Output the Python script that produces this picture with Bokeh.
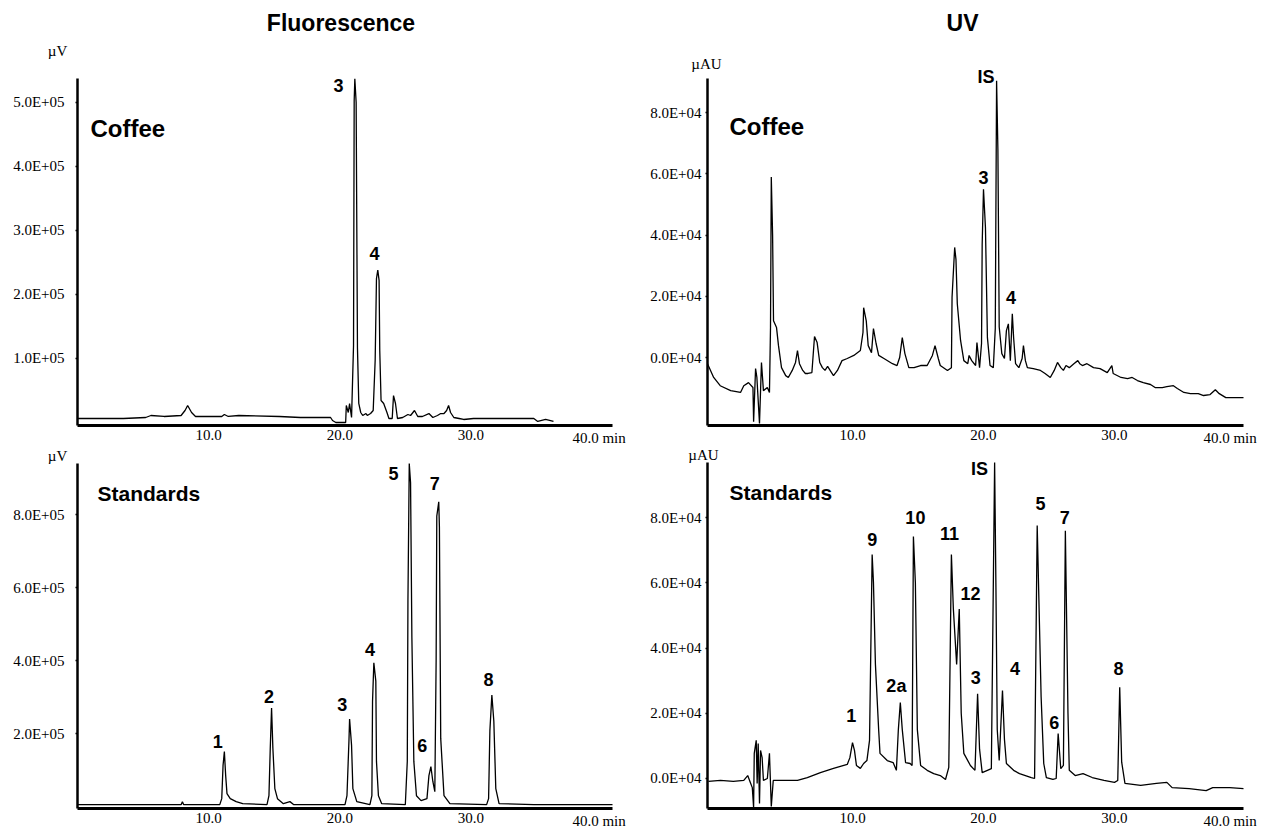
from bokeh.plotting import figure
from bokeh.models import FixedTicker, Label, Range1d
from bokeh.layouts import column, row
from bokeh.embed import file_html
from bokeh.resources import INLINE

# ---------------- data (time in min, signal) ----------------
# Fluorescence - Coffee (uV)
fl_coffee_t = [0.0, 3.5, 5.2, 5.6, 6.6, 7.9, 8.2, 8.4, 8.7, 9.0, 11.0, 11.2, 11.5, 12.3, 15.4, 17.0,
               19.3, 19.45, 19.7, 20.45, 20.5, 20.65, 20.75, 20.9, 21.05, 21.1, 21.15, 21.25, 21.35,
               21.45, 21.6, 21.75, 22.0, 22.1, 22.35, 22.55, 22.7, 22.8, 22.9, 23.0, 23.05, 23.15,
               23.35, 23.6, 23.75, 24.0, 24.1, 24.25, 24.4, 24.8, 25.2, 25.4, 25.7, 25.95, 26.3,
               26.8, 27.1, 27.45, 27.7, 27.95, 28.15, 28.3, 28.45, 28.7, 29.1, 29.45, 30.2, 32.3,
               34.8, 35.1, 35.7, 36.3]
fl_coffee_v = [6250, 6250, 7800, 10900, 9400, 10900, 18750, 26600, 15600, 9400, 9400, 12500, 9400,
               10900, 9400, 7800, 7800, 3100, 0, 0, 26600, 15600, 29700, 7800, 120000, 503000, 537000,
               500000, 117000, 29700, 15600, 10900, 14000, 10900, 14000, 18750, 97000, 225000, 238000,
               222000, 113000, 34400, 29700, 15600, 6250, 6250, 42000, 29700, 6250, 7800, 12500, 10900,
               18750, 9400, 9400, 14000, 7800, 10900, 14000, 14000, 18750, 26600, 15600, 7800, 6250,
               4700, 6250, 6250, 6250, 1600, 4700, 1600]

# Fluorescence - Standards (uV)
fl_std_t = [0.0, 7.9, 8.0, 8.1, 10.85, 11.0, 11.1, 11.2, 11.3, 11.4, 11.65, 12.1, 12.6, 14.45, 14.6,
            14.7, 14.8, 14.9, 15.05, 15.25, 15.7, 16.2, 16.5, 20.4, 20.55, 20.7, 20.75, 20.9, 21.0,
            21.3, 22.3, 22.45, 22.5, 22.6, 22.75, 22.8, 22.95, 23.2, 25.0, 25.15, 25.2, 25.3, 25.4,
            25.5, 25.65, 25.85, 26.2, 26.65, 26.8, 26.95, 27.1, 27.25, 27.35, 27.4, 27.55, 27.6, 27.7,
            27.95, 28.4, 31.2, 31.35, 31.45, 31.6, 31.75, 31.9, 32.15, 34.8, 40.8]
fl_std_v = [5500, 5500, 13800, 5500, 5500, 22000, 113000, 151000, 85000, 35800, 22000, 13800, 8300,
            5500, 30000, 160000, 270000, 160000, 49600, 22000, 8300, 13800, 5500, 5500, 30000, 179000,
            240000, 168000, 49600, 13800, 5500, 30000, 289000, 394000, 344000, 124000, 30000, 8300,
            5500, 124000, 565000, 940000, 887000, 464000, 124000, 30000, 16500, 22000, 85000, 110000,
            69000, 41000, 400000, 796000, 835000, 766000, 187000, 30000, 8300, 5500, 22000, 209000,
            306000, 234000, 49600, 8300, 5500, 5500]

# UV - Coffee (uAU)
uv_coffee_t = [-1.07, -0.6, -0.1, 0.7, 1.45, 1.7, 2.06, 2.4, 2.45, 2.6, 2.7, 2.9, 3.05, 3.2, 3.5, 3.66,
               3.74, 3.8, 3.9, 3.97, 4.2, 4.35, 4.58, 4.9, 5.1, 5.4, 5.65, 5.8, 5.95, 6.2, 6.4, 6.6,
               6.9, 7.1, 7.3, 7.5, 7.7, 7.9, 8.1, 8.4, 8.55, 8.85, 9.2, 9.6, 10.1, 10.6, 10.8, 10.85,
               11.05, 11.2, 11.45, 11.6, 11.8, 12.0, 12.4, 13.05, 13.4, 13.6, 13.8, 14.0, 14.3, 14.7,
               15.2, 15.7, 16.1, 16.3, 16.55, 16.7, 17.25, 17.55, 17.6, 17.8, 17.9, 18.0, 18.25, 18.5,
               18.8, 18.9, 19.1, 19.4, 19.5, 19.7, 19.85, 19.9, 20.0, 20.15, 20.3, 20.5, 20.75, 20.9,
               21.0, 21.1, 21.2, 21.4, 21.6, 21.75, 21.9, 22.05, 22.2, 22.3, 22.45, 22.7, 22.95, 23.05,
               23.2, 23.35, 23.8, 24.35, 24.7, 25.1, 25.4, 25.65, 25.9, 26.1, 26.3, 26.55, 26.9, 27.2,
               27.35, 27.55, 27.9, 28.4, 28.9, 29.45, 29.8, 29.9, 30.5, 31.0, 31.35, 31.75, 32.2, 32.75,
               33.1, 33.65, 34.0, 34.5, 34.8, 35.3, 35.8, 36.4, 36.8, 37.3, 37.7, 38.0, 38.5, 39.1, 39.85]
uv_coffee_v = [-2000, -6500, -9200, -10800, -11400, -9200, -8200, -9800, -21000, -3600, -6500, -21500,
               -1600, -10800, -9800, -11400, 9800, 59000, 40000, 12000, 9800, 3900, -3300, -5900, -6500,
               -4200, -1600, 2300, -2000, -4200, -5200, -5200, -4900, 6900, 4900, -1600, -3300, -4200,
               -2900, -4900, -5900, -4200, -1000, -300, 700, 2300, 8200, 16300, 12000, 3900, 1600, 9500,
               4600, 700, -300, -2000, -2600, 0, 6500, 1300, -3300, -3300, -2600, -2600, 700, 3900, -300,
               -2600, -4200, -3300, 19700, 36000, 32000, 17600, 5600, -1000, -2000, 700, -1000, -2600,
               4900, -3300, 4600, 37000, 55000, 42500, 6500, -2600, -3300, 9500, 90500, 68000, 10000,
               1300, -300, 8800, 11000, -1000, 14300, 6500, -2000, -3300, -300, 3900, -1000, -3300, -3600,
               -4200, -5200, -6500, -4200, -1600, -3300, -4200, -2600, -3300, -2000, -1000, -2000, -2600,
               -2000, -3300, -3600, -4900, -2600, -5200, -6500, -6900, -6500, -7500, -8200, -8800, -9800,
               -9800, -9500, -9200, -10100, -11400, -11800, -11800, -12400, -12100, -10500, -11800,
               -13100, -13100, -13100]

# UV - Standards (uAU)
uv_std_t = [-1.0, -0.08, 0.9, 1.7, 2.0, 2.2, 2.35, 2.45, 2.5, 2.65, 2.72, 2.8, 2.9, 2.98, 3.1, 3.2,
            3.5, 3.66, 3.8, 3.95, 4.7, 5.8, 6.55, 7.55, 8.55, 9.6, 9.8, 10.0, 10.15, 10.3, 10.6, 10.85,
            11.1, 11.3, 11.5, 11.6, 11.75, 12.0, 12.1, 12.65, 13.1, 13.35, 13.5, 13.65, 13.8, 14.05,
            14.4, 14.55, 14.65, 14.8, 14.95, 15.2, 15.7, 16.2, 16.7, 17.1, 17.35, 17.55, 17.7, 17.95,
            18.15, 18.3, 18.5, 19.0, 19.35, 19.55, 19.7, 19.9, 20.3, 20.6, 20.85, 20.95, 21.05, 21.2,
            21.45, 21.6, 21.75, 22.3, 22.75, 23.65, 23.9, 24.1, 24.4, 24.6, 24.8, 25.3, 25.55, 25.7,
            25.9, 26.1, 26.25, 26.45, 26.55, 27.0, 27.6, 28.3, 29.2, 30.0, 30.25, 30.4, 30.55, 30.8,
            32.0, 33.2, 34.0, 34.4, 35.7, 37.0, 37.5, 38.8, 39.85]
uv_std_v = [-900, -600, -900, -600, 900, -1200, -2800, -8900, 7700, 11700, -1500, 10700, -7700, 8600,
            6400, -600, 0, 7700, -8600, -600, -600, -600, 300, 1800, 3100, 4300, 6400, 11000, 8600,
            4000, 3100, 4600, 5500, 11700, 68700, 60000, 35000, 14700, 7700, 5500, 4900, 2500, 15000,
            23300, 15000, 4900, 4600, 4000, 74200, 60000, 15000, 4000, 2500, 1500, 900, -300, 3400,
            68700, 52000, 35000, 52000, 20000, 7700, 4000, 2500, 26000, 9000, 1800, 2500, 3000, 96900,
            58500, 15000, 5500, 27000, 12000, 4600, 2500, 1500, 300, 0, 77600, 25000, 4600, 300, -300,
            0, 13800, 3000, 4000, 76000, 20000, 2500, 900, 1500, 300, -600, -1200, -600, 28000, 5000,
            -1500, -2100, -1500, -1200, -2800, -3100, -3700, -2800, -2800, -3100]

# peak labels: text, time, signal
fl_coffee_peaks = ["3", "4"]
fl_coffee_peak_t = [19.9, 22.65]
fl_coffee_peak_v = [527000, 264000]

fl_std_peaks = ["1", "2", "3", "4", "5", "6", "7", "8"]
fl_std_peak_t = [10.7, 14.6, 20.2, 22.3, 24.1, 26.3, 27.25, 31.35]
fl_std_peak_v = [179000, 303000, 281000, 430000, 912000, 168000, 884000, 347000]

uv_coffee_peaks = ["IS", "3", "4"]
uv_coffee_peak_t = [20.2, 20.0, 22.1]
uv_coffee_peak_v = [91800, 58800, 19600]

uv_std_peaks = ["1", "9", "2a", "10", "11", "12", "3", "IS", "4", "5", "6", "7", "8"]
uv_std_peak_t = [9.9, 11.5, 13.35, 14.8, 17.4, 19.0, 19.4, 19.7, 22.4, 24.35, 25.4, 26.2, 30.3]
uv_std_peak_v = [19300, 73300, 28500, 80000, 75000, 56700, 31000, 94800, 33700, 84400, 17200, 80000, 33700]

# axis ticks
x_ticks = [10, 20, 30]
x_tick_labels = ["10.0", "20.0", "30.0"]
x_end_label = "40.0  min"

fl_coffee_yticks = [100000, 200000, 300000, 400000, 500000]
fl_coffee_ylabels = ["1.0E+05", "2.0E+05", "3.0E+05", "4.0E+05", "5.0E+05"]
fl_std_yticks = [200000, 400000, 600000, 800000]
fl_std_ylabels = ["2.0E+05", "4.0E+05", "6.0E+05", "8.0E+05"]
uv_yticks = [0, 20000, 40000, 60000, 80000]
uv_ylabels = ["0.0E+04", "2.0E+04", "4.0E+04", "6.0E+04", "8.0E+04"]

SERIF = "Liberation Serif"
SANS = "Liberation Sans"


def txt(x, y, text, font, size, dx=0, dy=0, align="center", baseline="middle", bold=False):
    return Label(x=x, y=y, x_offset=dx, y_offset=dy, text=text,
                 text_align=align, text_baseline=baseline, text_font=font,
                 text_font_style="bold" if bold else "normal", text_font_size=size,
                 text_color="black")


def panel(t, v, w, h, box, xlim, ylim, yticks, ylabels, ystand, unit, unit_off,
          sample, sample_size, sample_off, names, pt, pv, title=None, title_dx=0, end_off=17):
    # box: pixel edges (left, top, right, bottom) of the axes inside the figure
    l, tp, r, b = box
    kx = (xlim[1] - xlim[0]) / (r - l)
    ky = (ylim[1] - ylim[0]) / (b - tp)
    xr = Range1d(xlim[0] - l * kx, xlim[1] + (w - r) * kx)
    yr = Range1d(ylim[0] - (h - b) * ky, ylim[1] + tp * ky)
    p = figure(width=w, height=h, x_range=xr, y_range=yr, output_backend="svg",
               toolbar_location=None, min_border_left=0, min_border_right=0,
               min_border_top=0, min_border_bottom=0)
    p.outline_line_color = None
    p.xgrid.visible = False
    p.ygrid.visible = False
    p.background_fill_color = "white"
    p.border_fill_color = "white"

    p.line(t, v, line_color="black", line_width=1.3)

    p.xaxis.fixed_location = ylim[0]
    p.xaxis.bounds = xlim
    p.yaxis.fixed_location = xlim[0]
    p.yaxis.bounds = ylim
    p.xaxis.ticker = FixedTicker(ticks=x_ticks)
    p.xaxis.major_label_overrides = {k: s for k, s in zip(x_ticks, x_tick_labels)}
    p.yaxis.ticker = FixedTicker(ticks=yticks)
    p.yaxis.major_label_overrides = {k: s for k, s in zip(yticks, ylabels)}
    for ax in (p.xaxis, p.yaxis):
        ax.axis_line_color = "black"
        ax.minor_tick_line_color = None
        ax.major_label_text_font = SERIF
        ax.major_label_text_font_size = "15px"
        ax.major_label_text_color = "black"
    p.xaxis.axis_line_width = 3
    p.yaxis.axis_line_width = 2.5
    p.xaxis.major_tick_line_color = None
    p.xaxis.major_tick_out = 0
    p.xaxis.major_tick_in = 0
    p.xaxis.major_label_standoff = 4
    p.yaxis.major_tick_out = 2
    p.yaxis.major_tick_in = 0
    p.yaxis.major_tick_line_width = 1.5
    p.yaxis.major_label_standoff = ystand

    p.add_layout(txt(xlim[1], ylim[0], x_end_label, SERIF, "15px", dx=end_off, dy=-4,
                     align="right", baseline="top"))
    p.add_layout(txt(xlim[0], ylim[1], unit, SERIF, "15px", dx=unit_off[0], dy=unit_off[1]))
    p.add_layout(txt(xlim[0], ylim[1], sample, SANS, sample_size, dx=sample_off[0],
                     dy=sample_off[1], align="left", bold=True))
    for n, a, c in zip(names, pt, pv):
        p.add_layout(txt(a, c, n, SANS, "18px", bold=True))
    if title:
        p.add_layout(txt((xlim[0] + xlim[1]) / 2, ylim[1], title, SANS, "23px",
                         dx=title_dx, dy=56, bold=True))
    return p


tl = panel(fl_coffee_t, fl_coffee_v, 630, 445, (77, 78, 612, 425), (0, 40.8), (-4700, 537500),
           fl_coffee_yticks, fl_coffee_ylabels, 11, "\u00b5V", (-20, 28), "Coffee", "24px", (13, -50),
           fl_coffee_peaks, fl_coffee_peak_t, fl_coffee_peak_v, title="Fluorescence", title_dx=-4)
tr = panel(uv_coffee_t, uv_coffee_v, 634, 445, (77, 78, 613, 425), (-1.07, 39.85), (-22200, 91200),
           uv_yticks, uv_ylabels, 4, "\u00b5AU", (-1, 15), "Coffee", "24px", (22, -48),
           uv_coffee_peaks, uv_coffee_peak_t, uv_coffee_peak_v, title="UV", title_dx=-13)
bl = panel(fl_std_t, fl_std_v, 630, 385, (77, 18, 612, 363), (0, 40.8), (-5000, 940000),
           fl_std_yticks, fl_std_ylabels, 11, "\u00b5V", (-20, 8), "Standards", "21px", (20, -30),
           fl_std_peaks, fl_std_peak_t, fl_std_peak_v)
br = panel(uv_std_t, uv_std_v, 634, 385, (77, 17, 613, 363), (-1.07, 39.85), (-9200, 96900),
           uv_yticks, uv_ylabels, 4, "\u00b5AU", (-4, 8), "Standards", "21px", (22, -30),
           uv_std_peaks, uv_std_peak_t, uv_std_peak_v)

layout = column(row(tl, tr), row(bl, br))
open("out.html", "w").write(file_html(layout, INLINE))
